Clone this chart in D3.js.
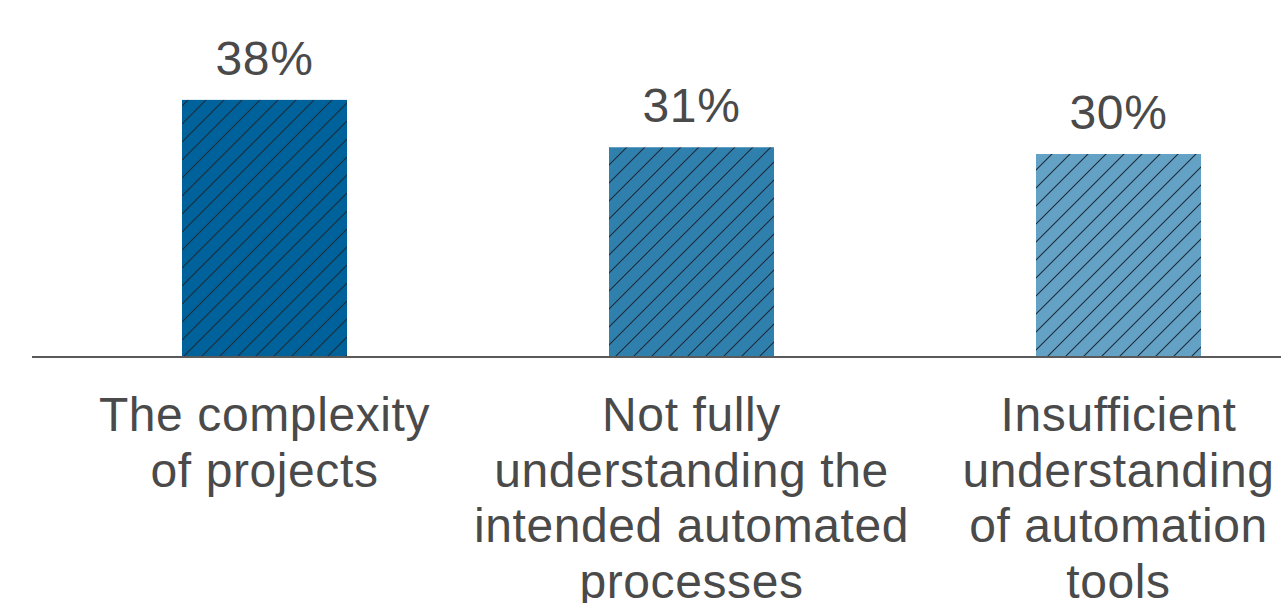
<!DOCTYPE html>
<html>
<head>
<meta charset="utf-8">
<script src="https://cdn.jsdelivr.net/npm/d3@7"></script>
<style>
  html, body { margin: 0; padding: 0; background: #ffffff; }
  svg { display: block; }
  text { font-family: "Liberation Sans", Arial, Helvetica, sans-serif; fill: #4a4a4a; }
</style>
</head>
<body>
<svg id="chart" width="1281" height="603"></svg>
<script>
// Survey results: share of respondents citing each challenge
const categories = [
  "The complexity of projects",
  "Not fully understanding the intended automated processes",
  "Insufficient understanding of automation tools"
];
const categoryLines = [
  ["The complexity", "of projects"],
  ["Not fully", "understanding the", "intended automated", "processes"],
  ["Insufficient", "understanding", "of automation", "tools"]
];
const values = [38, 31, 30];
const valueLabels = ["38%", "31%", "30%"];
const barColors = ["#00629b", "#3080ae", "#64a2c5"];

const svg = d3.select("#chart");
const width = 1281, height = 603;
const baseline = 357;
const step = 427, barW = 165;

const x = d3.scaleBand()
  .domain(categories)
  .range([51, 51 + step * categories.length])
  .paddingInner(1 - barW / step)
  .paddingOuter((1 - barW / step) / 2);

const y = d3.scaleLinear()
  .domain([0, 40])
  .range([baseline, baseline - 6.766 * 40]);

// Diagonal hatch patterns, one per bar colour
const defs = svg.append("defs");
barColors.forEach((c, i) => {
  const p = defs.append("pattern")
    .attr("id", "hatch" + i)
    .attr("patternUnits", "userSpaceOnUse")
    .attr("width", 18).attr("height", 18);
  p.append("rect").attr("width", 18).attr("height", 18).attr("fill", c);
  p.append("path")
    .attr("d", "M-2,2 L2,-2 M0,18 L18,0 M16,20 L20,16")
    .attr("stroke", "#1c2b38")
    .attr("stroke-width", 1.1)
    .attr("fill", "none");
});

// Bars
svg.append("g").selectAll("rect")
  .data(categories)
  .join("rect")
  .attr("x", d => x(d))
  .attr("y", (d, i) => y(values[i]))
  .attr("width", x.bandwidth())
  .attr("height", (d, i) => baseline - y(values[i]))
  .attr("fill", (d, i) => `url(#hatch${i})`);

// Baseline axis
const axis = svg.append("g")
  .attr("transform", `translate(0,${baseline})`)
  .call(d3.axisBottom(x).tickSize(0).tickFormat(""));
axis.select(".domain")
  .attr("d", `M32,0H${width}`)
  .attr("stroke", "#5a5a5a")
  .attr("stroke-width", 2);

// Value labels
svg.append("g").selectAll("text")
  .data(categories)
  .join("text")
  .attr("x", d => x(d) + x.bandwidth() / 2)
  .attr("y", (d, i) => y(values[i]) - 25)
  .attr("text-anchor", "middle")
  .attr("font-size", 48)
  .attr("letter-spacing", 0.6)
  .text((d, i) => valueLabels[i]);

// Category labels
const cat = svg.append("g").selectAll("text")
  .data(categories)
  .join("text")
  .attr("text-anchor", "middle")
  .attr("font-size", 48)
  .attr("letter-spacing", 0.6)
  .attr("x", d => x(d) + x.bandwidth() / 2)
  .attr("y", 431);
cat.selectAll("tspan")
  .data((d, i) => categoryLines[i].map(t => ({ t, cx: x(d) + x.bandwidth() / 2 })))
  .join("tspan")
  .attr("x", d => d.cx)
  .attr("dy", (d, j) => j === 0 ? 0 : 55.7)
  .text(d => d.t);
</script>
</body>
</html>
